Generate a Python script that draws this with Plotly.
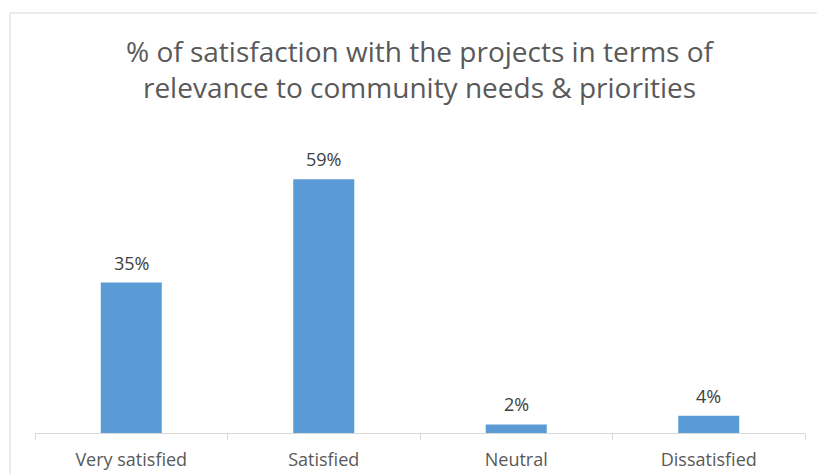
import plotly.graph_objects as go

categories = ["Very satisfied", "Satisfied", "Neutral", "Dissatisfied"]
values = [35, 59, 2, 4]
title_lines = ["% of satisfaction with the projects in terms of",
               "relevance to community needs & priorities"]

BAR = "#5B9BD5"
TEXT = "#595959"
GRID = "#D9D9D9"
FONT = "Open Sans"

fig = go.Figure()
fig.add_trace(go.Bar(x=categories, y=values, marker=dict(color=BAR, line=dict(width=0)),
                     hoverinfo="skip"))

# value labels above each bar
for c, v in zip(categories, values):
    fig.add_annotation(x=c, y=v, text=f"{v}%", showarrow=False, yanchor="bottom",
                       yshift=6, font=dict(family=FONT, size=18, color="#404040"))

# two-line title
fig.add_annotation(xref="paper", yref="paper", x=0.5, y=1.0, yshift=63,
                   text="<br>".join(title_lines), showarrow=False, yanchor="middle",
                   font=dict(family=FONT, size=28, color=TEXT))

# chart frame
fig.add_shape(type="rect", xref="paper", yref="paper",
              x0=(10 - 35) / 770, x1=1.2, y0=-0.5, y1=(433 - 13) / 301,
              line=dict(color=GRID, width=1), fillcolor="rgba(0,0,0,0)", layer="below")

fig.update_layout(
    width=817, height=474,
    margin=dict(l=35, r=12, t=132, b=41, autoexpand=False),
    paper_bgcolor="white", plot_bgcolor="white",
    bargap=0.683,
    showlegend=False,
    font=dict(family=FONT, color=TEXT),
    xaxis=dict(showline=True, linecolor=GRID, linewidth=1, ticks="outside",
               tickson="boundaries", ticklen=6, tickcolor=GRID, ticklabelstandoff=10,
               automargin=False,
               tickfont=dict(family=FONT, size=18, color=TEXT), showgrid=False),
    yaxis=dict(range=[0, 70], visible=False, showgrid=False, zeroline=False,
               automargin=False),
)

fig.write_html("out.html")
